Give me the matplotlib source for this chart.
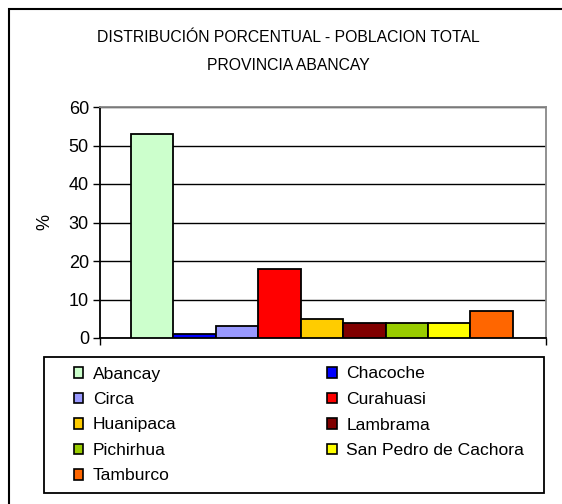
import matplotlib
matplotlib.use("Agg")
import matplotlib.pyplot as plt
from matplotlib.patches import Rectangle, Patch

plt.rcParams['font.family'] = ['Liberation Sans', 'DejaVu Sans']

categories = ["Abancay", "Chacoche", "Circa", "Curahuasi", "Huanipaca",
              "Lambrama", "Pichirhua", "San Pedro de Cachora", "Tamburco"]
values = [53, 1, 3, 18, 5, 4, 4, 4, 7]
colors = ["#CCFFCC", "#0000FF", "#9999FF", "#FF0000", "#FFCC00",
          "#800000", "#99CC00", "#FFFF00", "#FF6600"]
yticks = [0, 10, 20, 30, 40, 50, 60]
title_lines = ["DISTRIBUCIÓN PORCENTUAL - POBLACION TOTAL", "PROVINCIA ABANCAY"]
ylabel = "%"

W, H = 562, 504
fig = plt.figure(figsize=(W / 100, H / 100), dpi=100)

def fx(px):
    return px / W

def fy(py):
    return 1 - py / H

# outer frame
fig.patches.append(Rectangle((fx(9), fy(520)), fx(600), fy(9) - fy(520),
                             transform=fig.transFigure, fill=False,
                             edgecolor="black", linewidth=1.5, zorder=0))

ax = fig.add_axes([fx(100), fy(338), fx(546) - fx(100), fy(107) - fy(338)])
ax.set_facecolor("white")

xs = list(range(len(values)))
bars = ax.bar(xs, values, width=1.0, color=colors, edgecolor="black",
              linewidth=1.3, zorder=3)
ax.set_xlim(-1.23, 9.28)
ax.set_ylim(0, 60)
ax.set_yticks(yticks)
ax.set_yticklabels([str(t) for t in yticks], fontsize=13)
ax.yaxis.grid(True, color="black", linewidth=1.0, zorder=0)
ax.set_axisbelow(True)
ax.set_xticks([-1.23, 9.28])
ax.set_xticklabels(["", ""])
ax.tick_params(axis="x", direction="out", length=5, width=1.0, color="black")
ax.tick_params(axis="y", direction="out", length=5, width=1.0, color="black", pad=3)
for s in ["left", "bottom"]:
    ax.spines[s].set_color("black")
    ax.spines[s].set_linewidth(1.3)
for s in ["top", "right"]:
    ax.spines[s].set_color("#888888")
    ax.spines[s].set_linewidth(1.3)

fig.text(fx(45), fy(222), ylabel, rotation=90, ha="center", va="center", fontsize=13)

fig.text(fx(288), fy(38), title_lines[0], ha="center", va="center", fontsize=11.3)
fig.text(fx(288), fy(65), title_lines[1], ha="center", va="center", fontsize=11.3)

# legend box
fig.patches.append(Rectangle((fx(44), fy(493)), fx(544) - fx(44), fy(357) - fy(493),
                             transform=fig.transFigure, fill=False,
                             edgecolor="black", linewidth=1.3, zorder=1))

order = [0, 2, 4, 6, 8, 1, 3, 5, 7]
handles = [Patch(facecolor=colors[i], edgecolor="black", linewidth=1.2) for i in order]
labels = [categories[i] for i in order]
leg = fig.legend(handles, labels, ncol=2, loc="upper left",
                 bbox_to_anchor=(fx(70), fy(363)), bbox_transform=fig.transFigure,
                 frameon=False, fontsize=12.6, handlelength=0.55, handleheight=0.55,
                 handletextpad=0.55, columnspacing=8.6, labelspacing=0.6,
                 borderpad=0.2, borderaxespad=0)

fig.savefig("out.png", dpi=100)
